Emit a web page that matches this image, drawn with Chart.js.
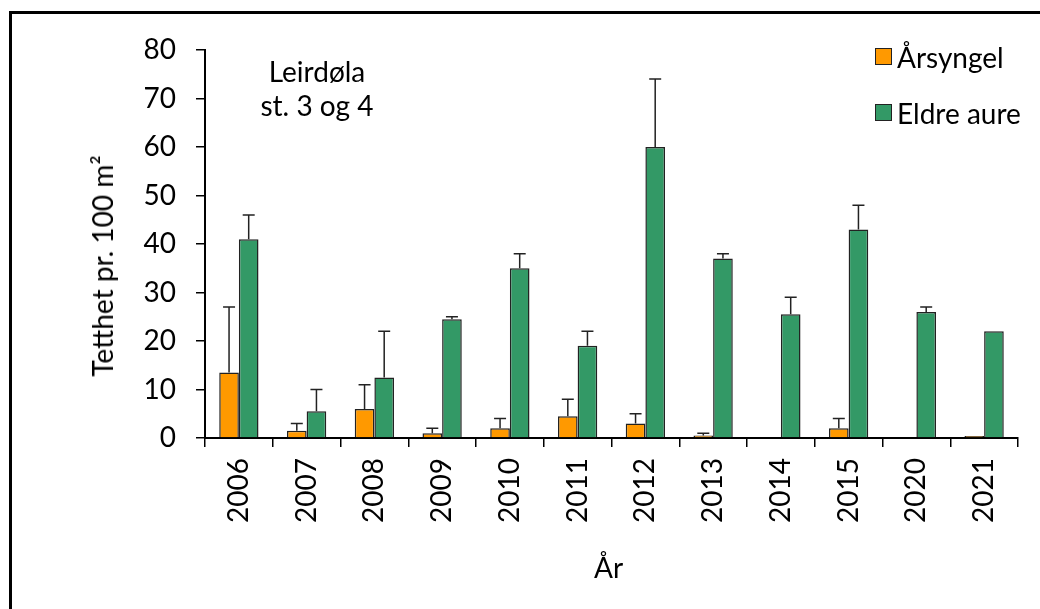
<!DOCTYPE html>
<html>
<head>
<meta charset="utf-8">
<script src="https://cdn.jsdelivr.net/npm/chart.js@4"></script>
<style>
  html, body { margin: 0; padding: 0; background: #fff; }
  #wrap { position: relative; width: 1040px; height: 609px; overflow: hidden; font-family: Lato, "Open Sans", sans-serif; color: #000; }
  #frame { position: absolute; left: 9px; top: 11px; width: 1100px; height: 700px; border-left: 3px solid #000; border-top: 3px solid #000; }
  canvas { position: absolute; left: 0; top: 0; }
  .lbl { position: absolute; font-size: 28px; white-space: nowrap; line-height: 1; }
  .box { position: absolute; width: 15px; height: 15px; border: 1px solid #222; }
</style>
</head>
<body>
<div id="wrap">
  <div id="frame"></div>
  <canvas id="myChart" width="1040" height="609"></canvas>
  <div class="lbl" style="left:237px; top:57px; width:160px; text-align:center;">Leirdøla</div>
  <div class="lbl" style="left:237px; top:91px; width:160px; text-align:center;">st. 3 og 4</div>
  <div class="box" style="left:875px; top:48px; background:#ff9900;"></div>
  <div class="lbl" style="left:897px; top:43px;">Årsyngel</div>
  <div class="box" style="left:875px; top:104px; background:#339966;"></div>
  <div class="lbl" style="left:897px; top:99px;">Eldre aure</div>
  <div class="lbl" style="left:594px; top:553px;">År</div>
  <div class="lbl" style="left:102px; top:266px; transform: translate(-50%, -50%) rotate(-90deg);">Tetthet pr. 100 m²</div>
</div>
<script>
// Data
const years = ['2006', '2007', '2008', '2009', '2010', '2011', '2012', '2013', '2014', '2015', '2020', '2021'];
const arsyngel = [13.5, 1.5, 6, 1, 2, 4.5, 3, 0.5, 0, 2, 0, 0.4];
const arsyngelErr = [13.5, 1.5, 5, 1, 2, 3.5, 2, 0.5, 0, 2, 0, 0];
const eldre = [41, 5.5, 12.5, 24.5, 35, 19, 60, 37, 25.5, 43, 26, 22];
const eldreErr = [5, 4.5, 9.5, 0.5, 3, 3, 14, 1, 3.5, 5, 1, 0];
const yTicks = [0, 10, 20, 30, 40, 50, 60, 70, 80];

// Error bars drawn on top of each bar (upper side only)
const errorBars = {
    id: 'errorBars',
    afterDatasetsDraw(chart) {
        const ctx = chart.ctx;
        const y = chart.scales.y;
        const errs = [arsyngelErr, eldreErr];
        ctx.save();
        ctx.strokeStyle = '#222';
        ctx.lineWidth = 1.5;
        chart.data.datasets.forEach((ds, di) => {
            const meta = chart.getDatasetMeta(di);
            meta.data.forEach((bar, i) => {
                const e = errs[di][i];
                if (!e) return;
                const top = y.getPixelForValue(ds.data[i] + e);
                ctx.beginPath();
                ctx.moveTo(bar.x, bar.y);
                ctx.lineTo(bar.x, top);
                ctx.moveTo(bar.x - 6, top);
                ctx.lineTo(bar.x + 6, top);
                ctx.stroke();
            });
        });
        ctx.restore();
    }
};

const ctx = document.getElementById('myChart').getContext('2d');
window.myChart = new Chart(ctx, {
    type: 'bar',
    data: {
        labels: years,
        datasets: [{
            label: 'Årsyngel',
            data: arsyngel,
            backgroundColor: '#ff9900',
            borderColor: '#222',
            borderWidth: 1.5,
            categoryPercentage: 0.58,
            barPercentage: 1.0
        }, {
            label: 'Eldre aure',
            data: eldre,
            backgroundColor: '#339966',
            borderColor: '#222',
            borderWidth: 1.5,
            categoryPercentage: 0.58,
            barPercentage: 1.0
        }]
    },
    options: {
        responsive: false,
        animation: false,
        layout: { padding: { left: 0, right: 22, top: 50, bottom: 0 } },
        plugins: {
            legend: { display: false },
            tooltip: { enabled: false }
        },
        scales: {
            x: {
                offset: true,
                grid: { offset: true, drawOnChartArea: false, drawTicks: true, tickLength: 9, color: '#000', lineWidth: 1.5 },
                border: { color: '#000', width: 2 },
                ticks: { color: '#000', font: { family: 'Lato', size: 28 }, minRotation: 90, maxRotation: 90, padding: 11 },
                afterFit: (s) => { s.height = 171; }
            },
            y: {
                min: 0,
                max: 80,
                afterBuildTicks: (s) => { s.ticks = yTicks.map(v => ({ value: v })); },
                grid: { drawOnChartArea: false, drawTicks: true, tickLength: 9, color: '#000', lineWidth: 1.5 },
                border: { color: '#000', width: 2 },
                ticks: { color: '#000', font: { family: 'Lato', size: 28 }, padding: 20 },
                afterFit: (s) => { s.width = 205; }
            }
        }
    },
    plugins: [errorBars]
});
</script>
</body>
</html>
